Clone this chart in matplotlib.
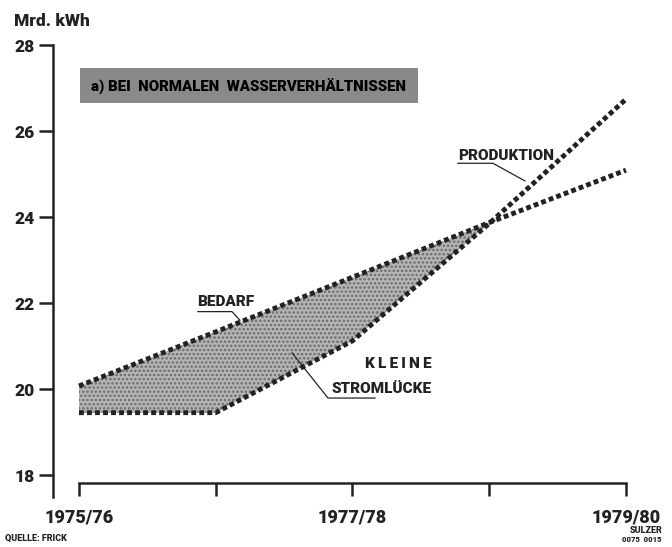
import numpy as np
import matplotlib
matplotlib.use('Agg')
import matplotlib.pyplot as plt
from matplotlib.patches import Rectangle

plt.rcParams['font.family'] = ['Roboto', 'DejaVu Sans']
plt.rcParams['font.weight'] = 'black'
plt.rcParams['hatch.linewidth'] = 1.2

# data (Mrd. kWh per year)
years = [0, 1, 2, 3, 4]
year_labels = ['1975/76', '', '1977/78', '', '1979/80']
bedarf = np.array([20.07, 21.33, 22.6, 23.87, 25.09])
produktion = np.array([19.45, 19.45, 21.12, 23.85, 26.74])
y_ticks = [18, 20, 22, 24, 26, 28]

INK = '#222222'
W = 'black'

fig = plt.figure(figsize=(6.72, 5.47), dpi=100)
ax = fig.add_axes([0.0789, 0.0923, 0.8933, 0.8254])
ax.set_xlim(-0.19, 4.2)
ax.set_ylim(17.5, 28)

# gap between demand and production
ax.fill_between(years, bedarf, produktion, where=bedarf >= produktion,
                interpolate=True, facecolor='#b5b5b5', edgecolor='#6a6a6a',
                hatch='....', linewidth=0, zorder=1)

dot_style = dict(color=INK, linewidth=3.5, dashes=(1.0, 0.65),
                 solid_capstyle='butt', dash_capstyle='butt', zorder=3)
ax.plot(years, bedarf, **dot_style)
ax.plot(years, produktion, **dot_style)

# axes look
for side in ['top', 'right']:
    ax.spines[side].set_visible(False)
ax.spines['left'].set_linewidth(1.8)
ax.spines['left'].set_color(INK)
ax.spines['bottom'].set_position(('data', 17.814))
ax.spines['bottom'].set_bounds(0, 4)
ax.spines['bottom'].set_linewidth(1.8)
ax.spines['bottom'].set_color(INK)

ax.set_yticks(y_ticks)
ax.set_yticklabels([str(v) for v in y_ticks], fontsize=12.5, fontweight=W)
ax.tick_params(axis='y', direction='out', length=10, width=1.8, pad=3, colors=INK)
ax.set_xticks(years)
ax.set_xticklabels(year_labels, fontsize=13, fontweight=W)
ax.tick_params(axis='x', direction='out', length=9, width=1.8, pad=9, colors=INK)

fig.text(14 / 672, 1 - 26 / 547, 'Mrd. kWh', fontsize=12.5, fontweight=W,
         color=INK, ha='left', va='baseline')

# title box
ax.add_patch(Rectangle((0.007, 26.65), 2.472, 0.82, facecolor='#8a8a8a',
                       edgecolor='none', zorder=2))
ax.text(1.243, 27.06, 'a) BEI  NORMALEN  WASSERVERHÄLTNISSEN', fontsize=10.8,
        fontweight=W, color='black', ha='center', va='center', zorder=4)

# labels with leader lines
lead = dict(color=INK, linewidth=0.9, zorder=4)
ax.text(2.771, 25.32, 'PRODUKTION', fontsize=11, fontweight=W,
        color=INK, ha='left', va='baseline')
ax.plot([2.771, 3.027, 3.261], [25.25, 25.25, 24.84], **lead)

ax.text(0.863, 21.92, 'BEDARF', fontsize=11, fontweight=W,
        color=INK, ha='left', va='baseline')
ax.plot([0.870, 1.119, 1.177], [21.80, 21.80, 21.60], **lead)

ax.text(2.581, 20.49, 'K\u2009L\u2009E\u2009I\u2009N\u2009E', fontsize=11, fontweight=W,
        color=INK, ha='right', va='baseline')
ax.text(2.581, 19.91, 'STROMLÜCKE', fontsize=11, fontweight=W,
        color=INK, ha='right', va='baseline')
ax.plot([2.165, 1.821, 1.558], [19.79, 19.79, 20.84], **lead)

# footer
fig.text(5 / 672, 1 - 541 / 547, 'QUELLE: FRICK', fontsize=6.5, fontweight=W,
         color=INK, ha='left', va='baseline')
fig.text(662 / 672, 1 - 533 / 547, 'SULZER', fontsize=6.5, fontweight=W,
         color=INK, ha='right', va='baseline')
fig.text(662 / 672, 1 - 542 / 547, '0075  0015', fontsize=5.5, fontweight=W,
         color=INK, ha='right', va='baseline')

fig.savefig('out.png', dpi=100)
